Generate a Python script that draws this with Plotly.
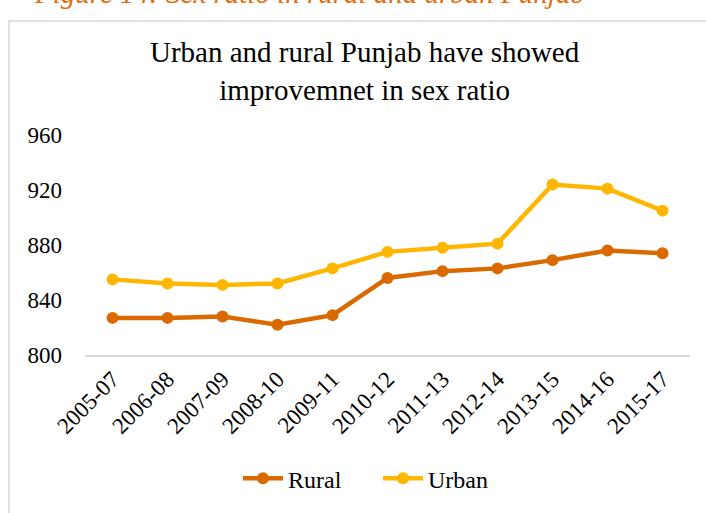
import plotly.graph_objects as go

# Data
periods = ["2005-07", "2006-08", "2007-09", "2008-10", "2009-11", "2010-12",
           "2011-13", "2012-14", "2013-15", "2014-16", "2015-17"]
rural = [827, 827, 828, 822, 829, 856, 861, 863, 869, 876, 874]
urban = [855, 852, 851, 852, 863, 875, 878, 881, 924, 921, 905]

RURAL_COLOR = "#DA6A00"
URBAN_COLOR = "#FFB600"
GRID_COLOR = "#D9D9D9"
FONT = "Liberation Serif"

W, H = 706, 513
L, R, T, B = 85, 16, 135, 154
pw, ph = W - L - R, H - T - B


def px_x(x):
    return (x - L) / pw


def px_y(y):
    return (H - B - y) / ph


fig = go.Figure()
for name, vals, color in [("Rural", rural, RURAL_COLOR), ("Urban", urban, URBAN_COLOR)]:
    fig.add_trace(go.Scatter(
        x=periods, y=vals, name=name,
        mode="lines+markers",
        line=dict(color=color, width=4.5),
        marker=dict(color=color, size=12),
    ))

fig.update_layout(
    width=W, height=H,
    margin=dict(l=L, r=R, t=T, b=B),
    paper_bgcolor="white",
    plot_bgcolor="white",
    font=dict(family=FONT, size=23, color="#000000"),
    xaxis=dict(
        type="category",
        range=[-0.5, len(periods) - 0.5],
        tickangle=-45,
        showgrid=False,
        showline=True,
        linecolor=GRID_COLOR,
        linewidth=1.5,
        ticks="",
        tickfont=dict(size=23),
        automargin=False,
    ),
    yaxis=dict(
        range=[800, 960],
        dtick=40,
        showgrid=False,
        zeroline=False,
        showline=False,
        ticks="",
        tickfont=dict(size=23),
        ticklabelstandoff=22,
        automargin=False,
    ),
    showlegend=True,
    legend=dict(
        orientation="h",
        x=px_x(378), xanchor="center",
        y=px_y(485), yanchor="middle",
        font=dict(size=24),
        entrywidth=85,
        itemwidth=40,
    ),
    shapes=[dict(
        type="rect", xref="paper", yref="paper",
        x0=px_x(9), x1=px_x(760), y0=px_y(560), y1=px_y(19),
        line=dict(color=GRID_COLOR, width=1.5),
        fillcolor="rgba(0,0,0,0)", layer="below",
    )],
    annotations=[
        dict(
            text="Urban and rural Punjab have showed<br>improvemnet in sex ratio",
            xref="paper", yref="paper",
            x=px_x(365), y=px_y(70), xanchor="center", yanchor="middle",
            showarrow=False, font=dict(size=29, family=FONT, color="#000000"),
        ),
        dict(
            text="<i>Figure 14: Sex ratio in rural and urban Punjab</i>",
            xref="paper", yref="paper",
            x=px_x(32), y=px_y(9), xanchor="left", yanchor="bottom",
            showarrow=False, font=dict(size=29, family=FONT, color="#E36C0A"),
        ),
    ],
)

# drop the default body margin so the figure sits at the window's top-left corner
fig.write_html(
    "out.html",
    config={"displayModeBar": False},
    post_script="document.body.style.margin='0';document.body.style.overflow='hidden';",
)
